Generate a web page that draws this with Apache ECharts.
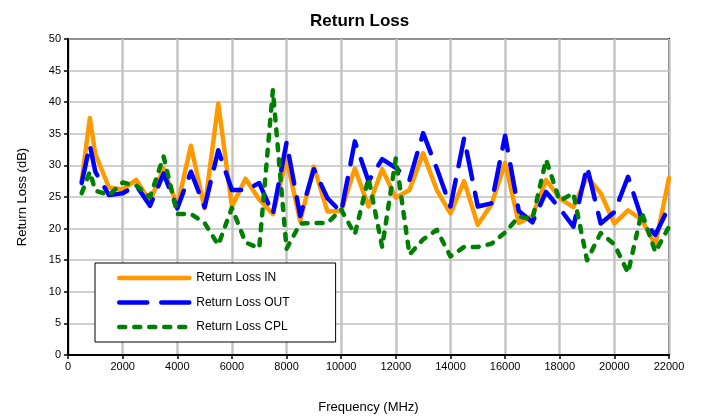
<!DOCTYPE html>
<html>
<head>
<meta charset="utf-8">
<script src="https://cdn.jsdelivr.net/npm/echarts@6/dist/echarts.min.js"></script>
<style>
html,body{margin:0;padding:0;background:#fff;}
#chart{width:702px;height:419px;}
</style>
</head>
<body>
<div id="chart"></div>
<script>
var freqs = [500, 800, 1000, 1500, 2000, 2500, 3000, 3500, 4000, 4500, 5000, 5500, 6000, 6500, 7000, 7500, 8000, 8500, 9000, 9500, 10000, 10500, 11000, 11500, 12000, 12500, 13000, 13500, 14000, 14500, 15000, 15500, 16000, 16500, 17000, 17500, 18000, 18500, 19000, 19500, 20000, 20500, 21000, 21500, 22000];
var inValues = [27.5, 37.5, 31.8, 26.5, 26.2, 27.7, 24.3, 29.5, 23.6, 33.1, 23.2, 39.8, 23.5, 27.9, 24.6, 22.3, 31.0, 21.2, 29.8, 22.7, 22.8, 29.5, 23.5, 29.4, 24.9, 26.1, 31.9, 26.1, 22.4, 27.5, 20.6, 23.8, 30.4, 20.9, 22.0, 27.7, 24.8, 23.4, 28.2, 25.6, 20.8, 22.9, 21.4, 17.4, 28.0];
var outValues = [27.2, 33.2, 29.0, 25.3, 25.6, 26.8, 23.6, 28.7, 23.2, 29.0, 23.4, 32.4, 26.1, 26.1, 27.2, 22.3, 33.6, 22.0, 29.4, 24.8, 22.6, 33.8, 27.5, 31.0, 29.6, 27.7, 35.1, 29.5, 23.5, 34.3, 23.5, 24.0, 34.7, 22.8, 21.0, 25.8, 23.2, 20.3, 29.8, 20.8, 22.6, 28.2, 21.6, 19.0, 23.5];
var cplValues = [25.6, 29.0, 26.0, 25.3, 27.3, 26.8, 25.0, 31.4, 22.3, 22.3, 20.9, 17.4, 23.3, 17.8, 16.9, 41.9, 16.8, 20.8, 20.9, 20.9, 23.0, 19.1, 28.0, 17.1, 31.1, 15.9, 18.3, 19.8, 15.6, 17.1, 17.1, 17.6, 19.4, 21.9, 21.5, 30.9, 24.4, 25.6, 15.0, 19.3, 17.5, 13.0, 22.6, 16.3, 20.3];
var seriesNames = ['Return Loss IN', 'Return Loss OUT', 'Return Loss CPL'];

function pairs(vals) { return freqs.map(function (f, i) { return [f, vals[i]]; }); }

var font = 'Arial, "Liberation Sans", sans-serif';
var chart = echarts.init(document.getElementById('chart'), null, {renderer: 'canvas'});
chart.setOption({
  backgroundColor: '#ffffff',
  animation: false,
  title: {
    text: 'Return Loss',
    left: 305, top: 8,
    textStyle: {fontFamily: font, fontSize: 17, fontWeight: 'bold', color: '#000'}
  },
  grid: {
    left: 68, right: 33, top: 39, bottom: 64,
    show: true, borderColor: '#000', borderWidth: 2, backgroundColor: 'transparent'
  },
  legend: {
    orient: 'vertical',
    left: 95, top: 263,
    itemWidth: 70, itemHeight: 14, itemGap: 12.5,
    padding: [9, 46, 9, 22],
    borderColor: '#000', borderWidth: 1, backgroundColor: '#fff',
    itemStyle: {color: 'rgba(0,0,0,0)', borderColor: 'rgba(0,0,0,0)', borderWidth: 0},
    lineStyle: {width: 4.5},
    textStyle: {fontFamily: font, fontSize: 12, color: '#000', padding: [0, 0, 0, 2]},
    data: seriesNames
  },
  xAxis: {
    type: 'value', min: 0, max: 22000, interval: 2000,
    name: 'Frequency (MHz)', nameLocation: 'middle', nameGap: 46,
    nameTextStyle: {fontFamily: font, fontSize: 13, color: '#000'},
    axisLine: {show: true, onZero: false, lineStyle: {color: '#000', width: 2}},
    axisTick: {show: true, length: 4, lineStyle: {color: '#000', width: 1.5}},
    axisLabel: {fontFamily: font, fontSize: 11, color: '#000', margin: 6,
      formatter: function (v) { return String(v); }},
    splitLine: {show: true, lineStyle: {color: '#c4c4c4', width: 2.5}}
  },
  yAxis: {
    type: 'value', min: 0, max: 50, interval: 5,
    name: 'Return Loss (dB)', nameLocation: 'middle', nameGap: 39,
    nameTextStyle: {fontFamily: font, fontSize: 13, color: '#000'},
    axisLine: {show: true, lineStyle: {color: '#000', width: 2}},
    axisTick: {show: true, length: 4, lineStyle: {color: '#000', width: 1.5}},
    axisLabel: {fontFamily: font, fontSize: 11, color: '#000', margin: 7},
    splitLine: {show: true, lineStyle: {color: '#c0c0c0', width: 1.5}}
  },
  series: [
    {
      name: seriesNames[0], type: 'line', symbol: 'none', data: pairs(inValues),
      lineStyle: {color: '#FF9900', width: 4.5, cap: 'round', join: 'round'},
      itemStyle: {color: '#FF9900'}
    },
    {
      name: seriesNames[1], type: 'line', symbol: 'none', data: pairs(outValues),
      lineStyle: {color: '#0000FF', width: 4.5, type: [28, 14], cap: 'round', join: 'round'},
      itemStyle: {color: '#0000FF'}
    },
    {
      name: seriesNames[2], type: 'line', symbol: 'none', data: pairs(cplValues),
      lineStyle: {color: '#008000', width: 4.5, type: [6, 9], cap: 'round', join: 'round'},
      itemStyle: {color: '#008000'}
    }
  ]
});
</script>
</body>
</html>
